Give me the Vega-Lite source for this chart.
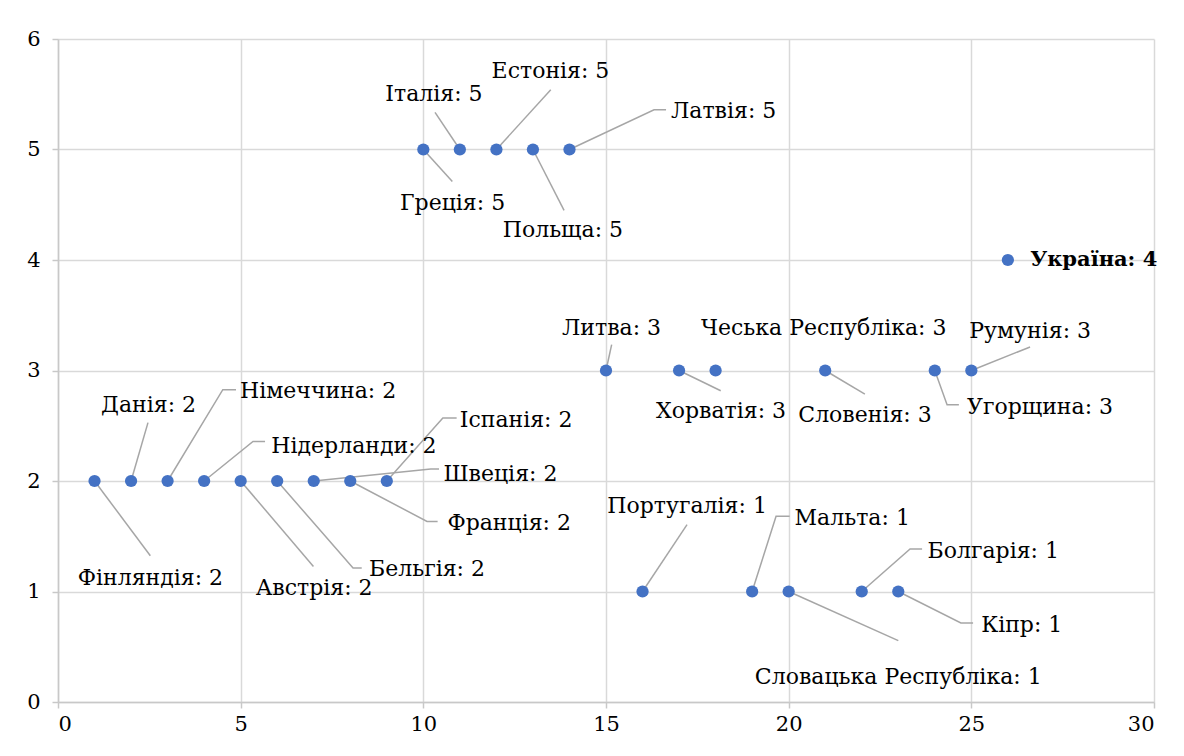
{
  "$schema": "https://vega.github.io/schema/vega-lite/v6.json",
  "width": 1096,
  "height": 663,
  "autosize": {"type": "none"},
  "padding": {"left": 58, "top": 39, "right": 30, "bottom": 54},
  "background": "white",
  "config": {
    "view": {"stroke": null},
    "font": "DejaVu Serif",
    "text": {"font": "DejaVu Serif"},
    "axis": {
      "grid": true,
      "gridColor": "#d9d9d9",
      "gridWidth": 1.5,
      "domainColor": "#c8c8c8",
      "domainWidth": 1.5,
      "tickColor": "#c8c8c8",
      "tickWidth": 1.5,
      "tickSize": 6,
      "labelFont": "DejaVu Serif",
      "labelFontSize": 21,
      "labelColor": "#000000",
      "title": null
    }
  },
  "datasets": {
    "points": [
      {"country": "Фінляндія", "x": 1, "y": 2},
      {"country": "Данія", "x": 2, "y": 2},
      {"country": "Німеччина", "x": 3, "y": 2},
      {"country": "Нідерланди", "x": 4, "y": 2},
      {"country": "Австрія", "x": 5, "y": 2},
      {"country": "Бельгія", "x": 6, "y": 2},
      {"country": "Швеція", "x": 7, "y": 2},
      {"country": "Франція", "x": 8, "y": 2},
      {"country": "Іспанія", "x": 9, "y": 2},
      {"country": "Греція", "x": 10, "y": 5},
      {"country": "Італія", "x": 11, "y": 5},
      {"country": "Естонія", "x": 12, "y": 5},
      {"country": "Польща", "x": 13, "y": 5},
      {"country": "Латвія", "x": 14, "y": 5},
      {"country": "Литва", "x": 15, "y": 3},
      {"country": "Португалія", "x": 16, "y": 1},
      {"country": "Хорватія", "x": 17, "y": 3},
      {"country": "Чеська Республіка", "x": 18, "y": 3},
      {"country": "Мальта", "x": 19, "y": 1},
      {"country": "Словацька Республіка", "x": 20, "y": 1},
      {"country": "Словенія", "x": 21, "y": 3},
      {"country": "Болгарія", "x": 22, "y": 1},
      {"country": "Кіпр", "x": 23, "y": 1},
      {"country": "Угорщина", "x": 24, "y": 3},
      {"country": "Румунія", "x": 25, "y": 3},
      {"country": "Україна", "x": 26, "y": 4}
    ],
    "labels": [
      {"label": "Фінляндія: 2", "lx": 2.53, "ly": 1.125, "bold": false},
      {"label": "Данія: 2", "lx": 2.48, "ly": 2.69, "bold": false},
      {"label": "Німеччина: 2", "lx": 7.12, "ly": 2.81, "bold": false},
      {"label": "Нідерланди: 2", "lx": 8.1, "ly": 2.32, "bold": false},
      {"label": "Австрія: 2", "lx": 7.01, "ly": 1.034, "bold": false},
      {"label": "Бельгія: 2", "lx": 10.1, "ly": 1.206, "bold": false},
      {"label": "Швеція: 2", "lx": 12.11, "ly": 2.066, "bold": false},
      {"label": "Франція: 2", "lx": 12.35, "ly": 1.623, "bold": false},
      {"label": "Іспанія: 2", "lx": 12.54, "ly": 2.555, "bold": false},
      {"label": "Греція: 5", "lx": 10.8, "ly": 4.52, "bold": false},
      {"label": "Італія: 5", "lx": 10.29, "ly": 5.5, "bold": false},
      {"label": "Естонія: 5", "lx": 13.48, "ly": 5.707, "bold": false},
      {"label": "Польща: 5", "lx": 13.82, "ly": 4.268, "bold": false},
      {"label": "Латвія: 5", "lx": 18.22, "ly": 5.345, "bold": false},
      {"label": "Литва: 3", "lx": 15.15, "ly": 3.387, "bold": false},
      {"label": "Хорватія: 3", "lx": 18.15, "ly": 2.63, "bold": false},
      {"label": "Чеська Республіка: 3", "lx": 20.96, "ly": 3.387, "bold": false},
      {"label": "Словенія: 3", "lx": 22.09, "ly": 2.6, "bold": false},
      {"label": "Угорщина: 3", "lx": 26.88, "ly": 2.672, "bold": false},
      {"label": "Румунія: 3", "lx": 26.61, "ly": 3.354, "bold": false},
      {"label": "Португалія: 1", "lx": 17.22, "ly": 1.77, "bold": false},
      {"label": "Мальта: 1", "lx": 21.74, "ly": 1.665, "bold": false},
      {"label": "Словацька Республіка: 1", "lx": 23.0, "ly": 0.226, "bold": false},
      {"label": "Болгарія: 1", "lx": 25.6, "ly": 1.363, "bold": false},
      {"label": "Кіпр: 1", "lx": 26.38, "ly": 0.7, "bold": false},
      {"label": "Україна: 4", "lx": 26.61, "ly": 4.0, "bold": true}
    ],
    "leaders": [
      {"name": "Фінляндія", "o": 0, "x": 1, "y": 2},
      {"name": "Фінляндія", "o": 1, "x": 2.527, "y": 1.324},
      {"name": "Данія", "o": 0, "x": 2, "y": 2},
      {"name": "Данія", "o": 1, "x": 2.463, "y": 2.528},
      {"name": "Німеччина", "o": 0, "x": 3, "y": 2},
      {"name": "Німеччина", "o": 1, "x": 4.511, "y": 2.826},
      {"name": "Німеччина", "o": 2, "x": 4.873, "y": 2.826},
      {"name": "Нідерланди", "o": 0, "x": 4, "y": 2},
      {"name": "Нідерланди", "o": 1, "x": 5.338, "y": 2.358},
      {"name": "Нідерланди", "o": 2, "x": 5.667, "y": 2.358},
      {"name": "Австрія", "o": 0, "x": 5, "y": 2},
      {"name": "Австрія", "o": 1, "x": 6.992, "y": 1.227},
      {"name": "Бельгія", "o": 0, "x": 6, "y": 2},
      {"name": "Бельгія", "o": 1, "x": 8.076, "y": 1.213},
      {"name": "Бельгія", "o": 2, "x": 8.314, "y": 1.213},
      {"name": "Швеція", "o": 0, "x": 7, "y": 2},
      {"name": "Швеція", "o": 1, "x": 10.203, "y": 2.109},
      {"name": "Швеція", "o": 2, "x": 10.43, "y": 2.109},
      {"name": "Франція", "o": 0, "x": 8, "y": 2},
      {"name": "Франція", "o": 1, "x": 10.101, "y": 1.634},
      {"name": "Франція", "o": 2, "x": 10.391, "y": 1.634},
      {"name": "Іспанія", "o": 0, "x": 9, "y": 2},
      {"name": "Іспанія", "o": 1, "x": 10.534, "y": 2.57},
      {"name": "Іспанія", "o": 2, "x": 10.912, "y": 2.57},
      {"name": "Греція", "o": 0, "x": 10, "y": 5},
      {"name": "Греція", "o": 1, "x": 10.794, "y": 4.711},
      {"name": "Італія", "o": 0, "x": 11, "y": 5},
      {"name": "Італія", "o": 1, "x": 10.32, "y": 5.336},
      {"name": "Естонія", "o": 0, "x": 12, "y": 5},
      {"name": "Естонія", "o": 1, "x": 13.488, "y": 5.541},
      {"name": "Польща", "o": 0, "x": 13, "y": 5},
      {"name": "Польща", "o": 1, "x": 13.852, "y": 4.449},
      {"name": "Латвія", "o": 0, "x": 14, "y": 5},
      {"name": "Латвія", "o": 1, "x": 16.315, "y": 5.36},
      {"name": "Латвія", "o": 2, "x": 16.644, "y": 5.36},
      {"name": "Литва", "o": 0, "x": 15, "y": 3},
      {"name": "Литва", "o": 1, "x": 15.155, "y": 3.234},
      {"name": "Хорватія", "o": 0, "x": 17, "y": 3},
      {"name": "Хорватія", "o": 1, "x": 18.141, "y": 2.817},
      {"name": "Словенія", "o": 0, "x": 21, "y": 3},
      {"name": "Словенія", "o": 1, "x": 22.086, "y": 2.787},
      {"name": "Угорщина", "o": 0, "x": 24, "y": 3},
      {"name": "Угорщина", "o": 1, "x": 24.336, "y": 2.69},
      {"name": "Угорщина", "o": 2, "x": 24.659, "y": 2.69},
      {"name": "Румунія", "o": 0, "x": 25, "y": 3},
      {"name": "Румунія", "o": 1, "x": 26.608, "y": 3.213},
      {"name": "Португалія", "o": 0, "x": 16, "y": 1},
      {"name": "Португалія", "o": 1, "x": 17.218, "y": 1.605},
      {"name": "Мальта", "o": 0, "x": 19, "y": 1},
      {"name": "Мальта", "o": 1, "x": 19.655, "y": 1.68},
      {"name": "Мальта", "o": 2, "x": 20.027, "y": 1.68},
      {"name": "Словацька Республіка", "o": 0, "x": 20, "y": 1},
      {"name": "Словацька Республіка", "o": 1, "x": 23.001, "y": 0.555},
      {"name": "Болгарія", "o": 0, "x": 22, "y": 1},
      {"name": "Болгарія", "o": 1, "x": 23.323, "y": 1.385},
      {"name": "Болгарія", "o": 2, "x": 23.652, "y": 1.385},
      {"name": "Кіпр", "o": 0, "x": 23, "y": 1},
      {"name": "Кіпр", "o": 1, "x": 24.714, "y": 0.715},
      {"name": "Кіпр", "o": 2, "x": 25.048, "y": 0.715}
    ]
  },
  "layer": [
    {
      "data": {"name": "leaders"},
      "mark": {"type": "line", "color": "#a6a6a6", "strokeWidth": 1.5},
      "encoding": {
        "x": {"field": "x", "type": "quantitative", "scale": {"domain": [0, 30], "nice": false}, "axis": {"values": [0, 5, 10, 15, 20, 25, 30], "format": "d", "labelPadding": 5, "labelFontSize": 21}},
        "y": {"field": "y", "type": "quantitative", "scale": {"domain": [0, 6], "nice": false}, "axis": {"values": [0, 1, 2, 3, 4, 5, 6], "format": "d", "labelPadding": 12, "labelFontSize": 21}},
        "detail": {"field": "name"},
        "order": {"field": "o"}
      }
    },
    {
      "data": {"name": "points"},
      "mark": {"type": "circle", "color": "#4472c4", "opacity": 1, "size": 150},
      "encoding": {
        "x": {"field": "x", "type": "quantitative"},
        "y": {"field": "y", "type": "quantitative"}
      }
    },
    {
      "data": {"name": "labels"},
      "transform": [{"filter": "!datum.bold"}],
      "mark": {"type": "text", "fontSize": 22, "color": "#000000", "align": "center", "baseline": "middle"},
      "encoding": {
        "x": {"field": "lx", "type": "quantitative"},
        "y": {"field": "ly", "type": "quantitative"},
        "text": {"field": "label"}
      }
    },
    {
      "data": {"name": "labels"},
      "transform": [{"filter": "datum.bold"}],
      "mark": {"type": "text", "fontSize": 21, "fontWeight": "bold", "color": "#000000", "align": "left", "baseline": "middle"},
      "encoding": {
        "x": {"field": "lx", "type": "quantitative"},
        "y": {"field": "ly", "type": "quantitative"},
        "text": {"field": "label"}
      }
    }
  ]
}
